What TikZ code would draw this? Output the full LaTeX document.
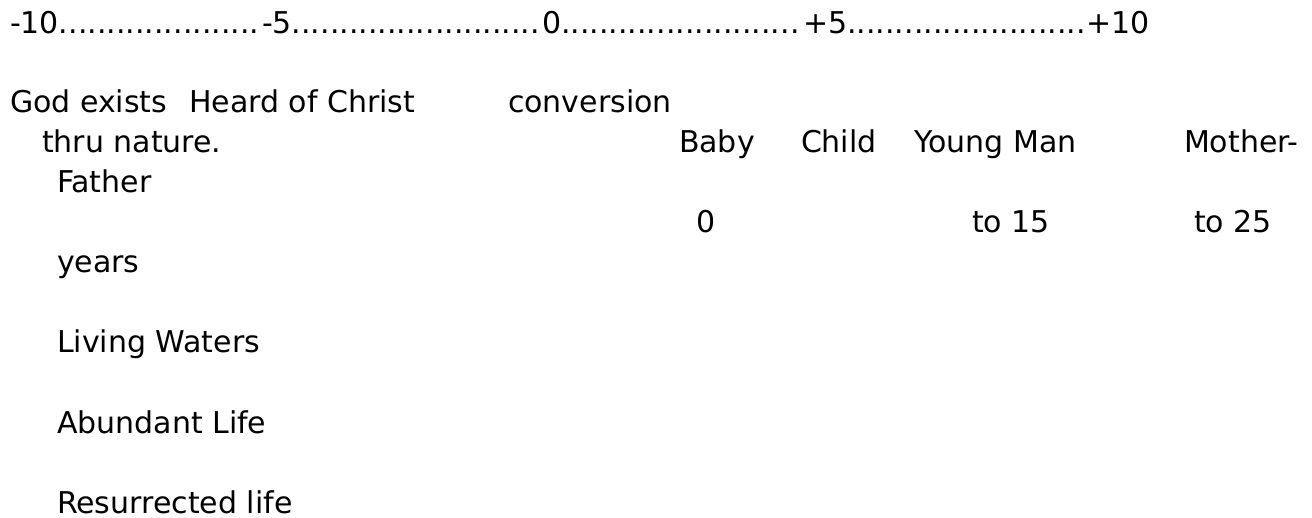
\documentclass[tikz,border=0pt]{standalone}
\usepackage{fontspec}
\setmainfont{DejaVu Sans}
\begin{document}
\begin{tikzpicture}[x=1pt,y=-1pt,
  txt/.style={anchor=base west,inner sep=0pt,outer sep=0pt,font=\fontsize{30}{36}\selectfont},
  dots/.style={anchor=base west,inner sep=0pt,outer sep=0pt,font=\fontsize{30}{36}\selectfont}]
\useasboundingbox[fill=white] (0,0) rectangle (1312,518);
% number line
\node[txt] (m10) at (10,34) {-10};
\node[txt] (m5) at (262,34) {-5};
\node[txt] (z0) at (542,34) {0};
\node[txt] (p5) at (803,34) {+5};
\node[txt] (p10) at (1086,34) {+10};
\node[dots] (d1) at (m10.base east) {.....................};
\node[dots] (d2) at (m5.base east) {..........................};
\node[dots] (d3) at (z0.base east) {.........................};
\node[dots] (d4) at (p5.base east) {.........................};
% rows
\node[txt] (god) at (10,113) {God exists};
\node[txt] (heard) at (189,113) {Heard of Christ};
\node[txt] (conv) at (508,113) {conversion};
\node[txt] (thru) at (42,153) {thru nature.};
\node[txt] (baby) at (679,153) {Baby};
\node[txt] (child) at (801,153) {Child};
\node[txt] (young) at (914,153) {Young Man};
\node[txt] (mother) at (1184,153) {Mother-};
\node[txt] (father) at (57,193) {Father};
\node[txt] (zero) at (696,233) {0};
\node[txt] (to15) at (972,233) {to 15};
\node[txt] (to25) at (1194,233) {to 25};
\node[txt] (years) at (57,273) {years};
\node[txt] (living) at (57,353) {Living Waters};
\node[txt] (abund) at (57,433) {Abundant Life};
\node[txt] (resur) at (57,513) {Resurrected life};
\end{tikzpicture}
\end{document}
